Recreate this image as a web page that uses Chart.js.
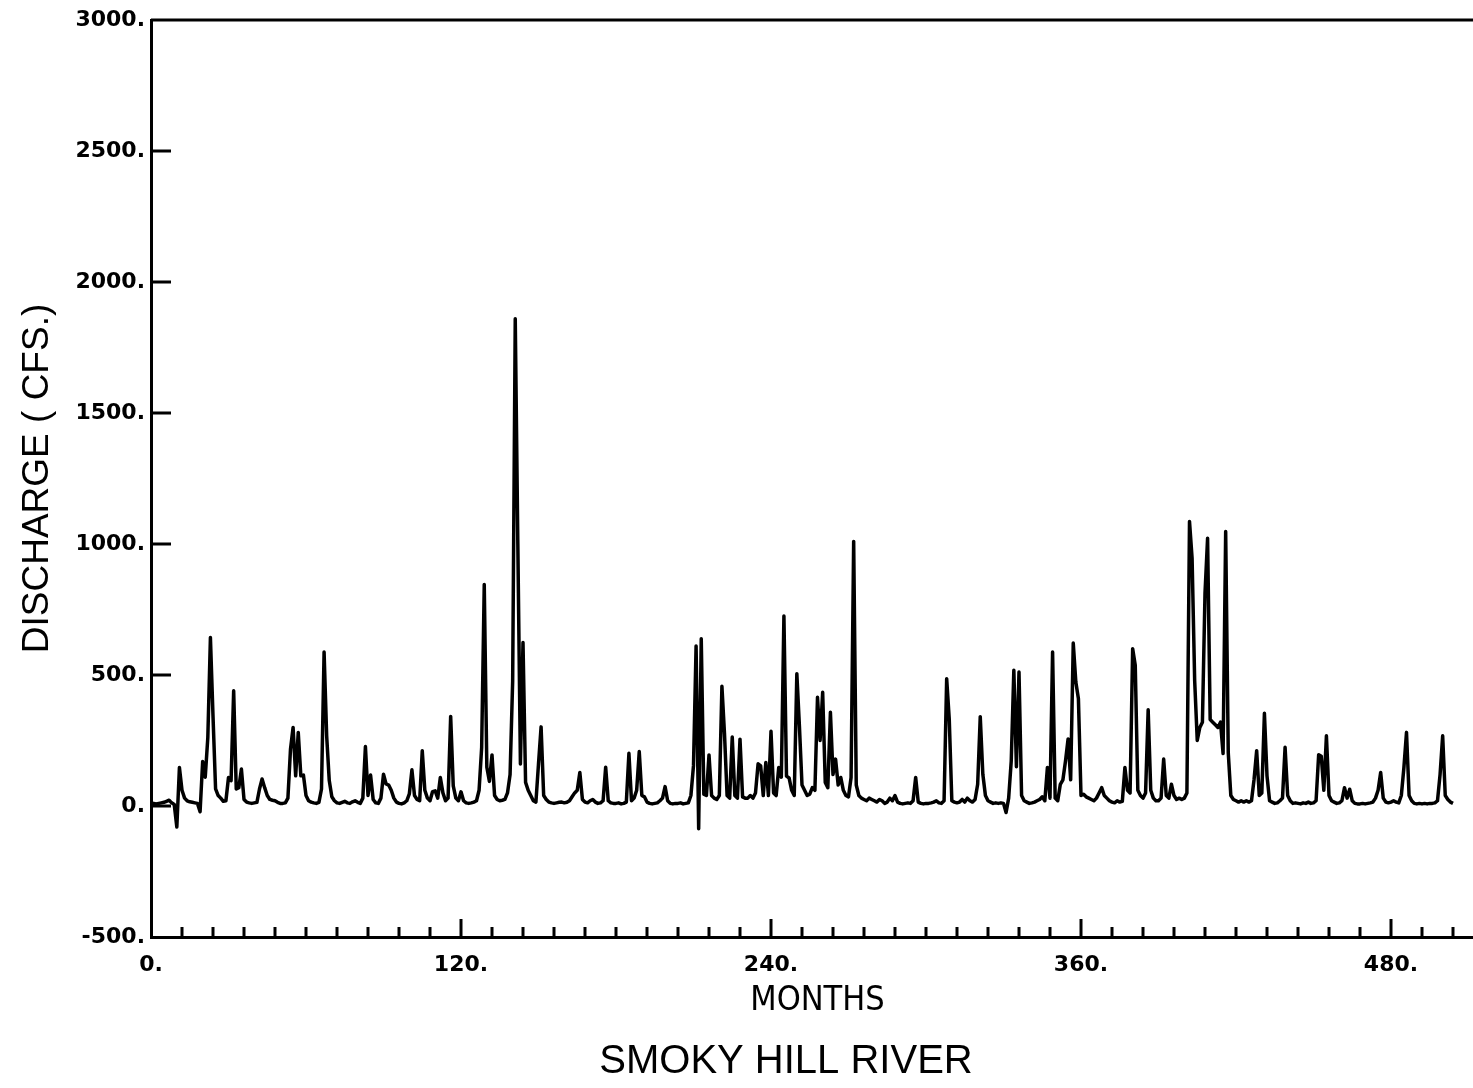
<!DOCTYPE html>
<html>
<head>
<meta charset="utf-8">
<title>Smoky Hill River</title>
<script src="https://cdn.jsdelivr.net/npm/chart.js@4/dist/chart.umd.min.js"></script>
<style>
    html, body { margin: 0; padding: 0; background: #fff; overflow: hidden; }
    #wrap { position: relative; width: 1572px; height: 1088px; }
</style>
</head>
<body>
<div id="wrap"><canvas id="flowChart"></canvas></div>
<script>
// monthly discharge (cfs), one row per year
const discharge = [
    12, 10, 8, 10, 12, 14, 18, 22, 12, 6, -80, 147,
    60, 30, 20, 16, 14, 12, 10, -22, 170, 110, 262, 643,
    344, 65, 40, 30, 18, 20, 109, 97, 440, 65, 70, 141,
    25, 15, 12, 10, 12, 14, 65, 103, 70, 40, 25, 22,
    20, 14, 10, 10, 12, 30, 217, 300, 115, 281, 115, 118,
    40, 20, 15, 12, 10, 14, 65, 588, 268, 97, 35, 20,
    12, 10, 14, 18, 12, 10, 16, 20, 14, 10, 30, 227,
    40, 118, 25, 12, 10, 30, 121, 84, 80, 60, 30, 15,
    10, 8, 12, 20, 46, 138, 40, 25, 20, 211, 60, 30,
    20, 55, 58, 30, 109, 50, 20, 30, 342, 77, 30, 20,
    54, 20, 12, 10, 12, 15, 20, 60, 224, 845, 148, 94,
    195, 40, 25, 20, 22, 25, 50, 120, 477, 1860, 1000, 160,
    624, 90, 60, 40, 20, 15, 161, 302, 40, 25, 15, 12,
    10, 12, 14, 15, 12, 14, 20, 35, 50, 60, 128, 25,
    15, 12, 20, 25, 15, 10, 12, 20, 148, 20, 12, 10,
    10, 12, 8, 10, 15, 201, 20, 30, 60, 208, 40, 35,
    15, 10, 8, 10, 12, 20, 30, 74, 20, 10, 8, 10,
    10, 12, 8, 10, 12, 40, 154, 611, -87, 638, 45, 40,
    195, 40, 30, 25, 40, 457, 275, 40, 30, 263, 40, 30,
    255, 35, 30, 30, 40, 30, 50, 161, 153, 40, 166, 40,
    285, 50, 40, 147, 110, 725, 114, 107, 60, 40, 505, 305,
    80, 60, 40, 45, 70, 60, 415, 250, 434, 90, 70, 358,
    120, 179, 80, 109, 60, 40, 35, 109, 1010, 80, 40, 30,
    25, 20, 30, 25, 20, 15, 25, 20, 10, 15, 30, 20,
    40, 15, 10, 8, 10, 12, 10, 20, 109, 15, 10, 8,
    10, 10, 12, 15, 20, 12, 10, 20, 486, 332, 20, 15,
    12, 15, 25, 15, 30, 20, 15, 25, 83, 341, 121, 40,
    20, 15, 10, 12, 10, 12, 10, -25, 30, 172, 518, 150,
    511, 40, 20, 15, 10, 12, 15, 20, 25, 35, 20, 147,
    30, 588, 30, 20, 83, 100, 172, 256, 100, 622, 473, 409,
    40, 45, 35, 30, 25, 20, 30, 50, 70, 40, 30, 20,
    15, 12, 20, 15, 18, 147, 60, 50, 600, 537, 60, 40,
    30, 50, 367, 60, 30, 20, 20, 30, 179, 40, 30, 83,
    40, 25, 30, 25, 30, 50, 1086, 946, 479, 250, 300, 320,
    812, 1022, 330, 320, 310, 300, 320, 200, 1048, 204, 40, 25,
    20, 15, 20, 15, 20, 15, 20, 102, 211, 40, 50, 354,
    115, 20, 15, 10, 12, 20, 30, 224, 40, 20, 10, 12,
    10, 8, 12, 10, 15, 10, 12, 20, 196, 190, 60, 268,
    40, 20, 15, 10, 12, 20, 70, 30, 64, 20, 10, 8,
    8, 10, 8, 10, 12, 15, 30, 60, 128, 30, 15, 12,
    15, 20, 15, 12, 40, 147, 281, 40, 20, 10, 8, 10,
    8, 10, 8, 10, 10, 12, 20, 121, 268, 40, 25, 15,
    10
];
const months = discharge.map((v, i) => i);

const xRange = [0, 516];      // months
const xTickStep = 12;         // one tick per year
const xLabelStep = 120;       // labelled every 10 years
const yRange = [-500, 3000];  // cfs
const yTickStep = 500;
const chartTitle = 'SMOKY HILL RIVER';

// ticks drawn inward + top frame line, like the old plotter output
const frameTicks = {
    id: 'frameTicks',
    afterDatasetsDraw(chart) {
        const { ctx, chartArea, scales } = chart;
        ctx.save();
        ctx.strokeStyle = '#000';
        ctx.lineWidth = 3;
        ctx.beginPath();
        ctx.moveTo(chartArea.left, chartArea.top);
        ctx.lineTo(chartArea.right, chartArea.top);
        scales.x.ticks.forEach(t => {
            if (t.value === xRange[0]) return;
            const px = scales.x.getPixelForValue(t.value);
            const len = t.value % xLabelStep === 0 ? 18 : 10;
            ctx.moveTo(px, chartArea.bottom);
            ctx.lineTo(px, chartArea.bottom - len);
        });
        scales.y.ticks.forEach(t => {
            if (t.value === yRange[0] || t.value === yRange[1]) return;
            const py = scales.y.getPixelForValue(t.value);
            ctx.moveTo(chartArea.left, py);
            ctx.lineTo(chartArea.left + 20, py);
        });
        ctx.stroke();
        ctx.restore();
    }
};

// title centred on the whole page, not on the padded layout box
const pageTitle = {
    id: 'pageTitle',
    afterDraw(chart) {
        const ctx = chart.ctx;
        ctx.save();
        ctx.fillStyle = '#000';
        ctx.font = "40px 'Liberation Sans', sans-serif";
        ctx.textAlign = 'center';
        ctx.textBaseline = 'middle';
        ctx.fillText(chartTitle, chart.width / 2, 1062);
        ctx.restore();
    }
};

const tickFont = { family: "'DejaVu Sans', sans-serif", size: 22, weight: 'bold' };

new Chart(document.getElementById('flowChart'), {
    type: 'line',
    data: {
        datasets: [{
            data: discharge.map((v, i) => ({ x: months[i], y: v })),
            borderColor: '#000',
            borderWidth: 3.5,
            borderJoinStyle: 'round',
            pointRadius: 0,
            tension: 0,
            fill: false
        }]
    },
    options: {
        responsive: true,
        maintainAspectRatio: false,
        animation: false,
        layout: { padding: { top: 20, left: 0, right: 88, bottom: 62 } },
        scales: {
            x: {
                type: 'linear',
                min: xRange[0], max: xRange[1],
                grid: { display: false, drawTicks: false },
                border: { display: true, color: '#000', width: 3 },
                ticks: {
                    stepSize: xTickStep,
                    autoSkip: false,
                    maxRotation: 0,
                    padding: 15,
                    color: '#000',
                    font: tickFont,
                    callback: v => (v % xLabelStep === 0 ? v + '.' : '')
                },
                title: {
                    display: true,
                    text: 'MONTHS',
                    color: '#000',
                    font: { family: "'DejaVu Sans Condensed', 'Liberation Sans Narrow', 'Liberation Sans', sans-serif", size: 34 },
                    padding: { top: 0, bottom: 4 }
                },
                afterFit: s => { s.height = 89; }
            },
            y: {
                min: yRange[0], max: yRange[1],
                grid: { display: false, drawTicks: false },
                border: { display: true, color: '#000', width: 3 },
                ticks: {
                    stepSize: yTickStep,
                    padding: 6,
                    color: '#000',
                    font: tickFont,
                    callback: v => v + '.'
                },
                title: {
                    display: true,
                    text: 'DISCHARGE ( CFS.)',
                    color: '#000',
                    font: { family: "'Liberation Sans', sans-serif", size: 37 },
                    padding: { top: 16, bottom: 0 }
                },
                afterFit: s => { s.width = 151; }
            }
        },
        plugins: {
            legend: { display: false },
            tooltip: { enabled: false },
            title: { display: false }
        }
    },
    plugins: [frameTicks, pageTitle]
});
</script>
</body>
</html>
